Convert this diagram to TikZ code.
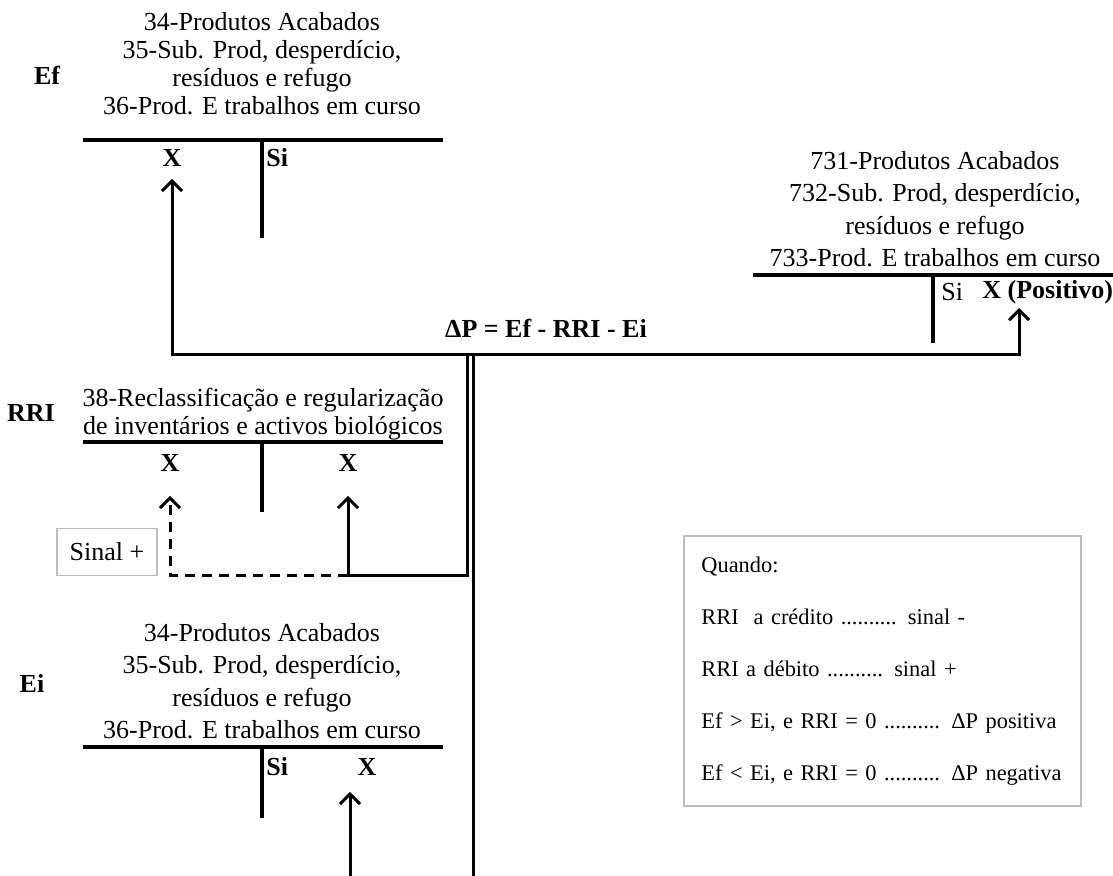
\documentclass[tikz,border=0pt]{standalone}
\usepackage{fontspec}
\setmainfont{Liberation Serif}
\usetikzlibrary{arrows.meta, positioning}
\definecolor{boxGray}{HTML}{BDBDBD}
\tikzset{
  contafig/.style={
    x=0.5pt, y=-0.5pt,
    every node/.append style={font=\fontsize{13}{14}\selectfont},
    >={Straight Barb[length=5pt,width=10pt]},
  },
  tbar/.style={line width=2pt},
  titulo/.style={align=center, inner sep=0pt},
  tituloLargo/.style={titulo, font=\fontsize{13}{16.25}\selectfont},
  rotulo/.style={font=\fontsize{13}{14}\selectfont\bfseries, inner sep=0pt},
  link/.style={line width=1.5pt},
  tracejado/.style={link, dash pattern=on 5pt off 3.5pt},
  % caixas de nota com contorno cinzento
  sinalbox/.style={draw=boxGray, line width=0.9pt, minimum width=50pt, minimum height=23.5pt, inner sep=2pt},
  quadro/.style={draw=boxGray, line width=0.9pt, align=left, text width=181pt,
    minimum width=198.5pt, minimum height=135pt, inner xsep=8.5pt,
    font=\fontsize{11.2}{26}\selectfont},
}
\begin{document}
\begin{tikzpicture}[contafig]
  \useasboundingbox (0,0) rectangle (1113,876);
  % Ef
  \node[rotulo] (EfLbl) at (47,75) {Ef};
  \node[titulo] (EfTitulo) at (262,64) {34-Produtos Acabados\\35-Sub. Prod, desperdício,\\resíduos e refugo\\36-Prod. E trabalhos em curso};
  \draw[tbar] (83,140) -- (443,140);
  \draw[tbar] (262,140) -- (262,238);
  \node[rotulo] (EfX) at (172,158) {X};
  \node[rotulo, anchor=west] (EfSi) at (266,158) {Si};
  % 73 - variacao da producao
  \node[tituloLargo] (PATitulo) at (935,209) {731-Produtos Acabados\\732-Sub. Prod, desperdício,\\resíduos e refugo\\733-Prod. E trabalhos em curso};
  \draw[tbar] (753,275) -- (1113,275);
  \draw[tbar] (933,275) -- (933,343);
  \node[anchor=west, inner sep=0pt] (PASi) at (941,292) {Si};
  \node[rotulo, anchor=west] (PAX) at (982,292) {X (Positivo)};
  \coordinate (PosPonta) at (1019,308);
  \node[rotulo] (DeltaP) at (546,328) {ΔP = Ef - RRI - Ei};
  \coordinate (hubA) at (467,355);
  \coordinate (hubB) at (473,355);
  \coordinate (fundoB) at (473,876);
  \draw[link,->,shorten >=6pt] (hubA) -| (EfX.south);
  \draw[link,->] (hubA) -| (PosPonta);
  \draw[link] (hubB) -- (fundoB);
  % RRI
  \node[rotulo] (RRILbl) at (31,413) {RRI};
  \node[titulo] (RRITitulo) at (263,414) {38-Reclassificação e regularização\\de inventários e activos biológicos};
  \draw[tbar] (83,442) -- (443,442);
  \draw[tbar] (262,442) -- (262,512);
  \node[rotulo] (RRIXd) at (170,463) {X};
  \node[rotulo] (RRIXc) at (348,463) {X};
  \coordinate (rriCanto) at (467,575);
  \draw[link,->,shorten >=12pt] (hubA) -- (rriCanto) -| (RRIXc.south);
  \draw[tracejado,->,shorten >=12pt] (RRIXc.south |- rriCanto) -| (RRIXd.south);
  \node[sinalbox] (SinalMais) at (107,552) {Sinal +};
  % Ei
  \node[rotulo] (EiLbl) at (32,683) {Ei};
  \node[tituloLargo] (EiTitulo) at (262,681) {34-Produtos Acabados\\35-Sub. Prod, desperdício,\\resíduos e refugo\\36-Prod. E trabalhos em curso};
  \draw[tbar] (83,747) -- (443,747);
  \draw[tbar] (262,747) -- (262,818);
  \node[rotulo, anchor=west] (EiSi) at (266,767) {Si};
  \node[rotulo] (EiX) at (367,767) {X};
  \coordinate (eiPe) at (350,876);
  \draw[link,->,shorten >=8pt] (eiPe) -- (eiPe |- EiX.south);
  % nota
  \node[quadro, anchor=north west] (Quando) at (683,535) {Quando:\\RRI\ \ a crédito .......... sinal -\\RRI a débito .......... sinal +\\Ef > Ei, e RRI = 0 .......... ΔP positiva\\Ef < Ei, e RRI = 0 .......... ΔP negativa};
\end{tikzpicture}
\end{document}
